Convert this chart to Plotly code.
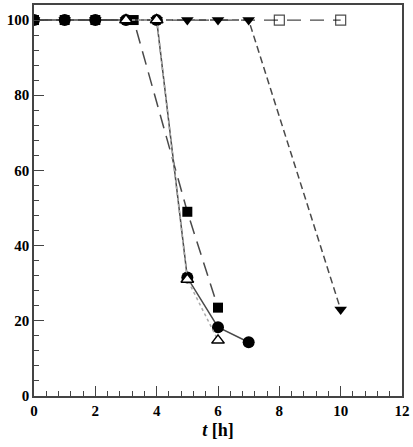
import plotly.graph_objects as go

# Data
t_circle = [0, 1, 2, 3, 4, 5, 6, 7]
y_circle = [100, 100, 100, 100, 100, 31.5, 18.3, 14.3]

t_square_f = [0, 1, 2, 3.25, 5, 6]
y_square_f = [100, 100, 100, 100, 49, 23.5]

t_tri_up = [3, 4, 5, 6]
y_tri_up = [100, 100, 31, 14.8]

t_tri_down = [0, 1, 2, 3, 4, 5, 6, 7, 10]
y_tri_down = [100, 100, 100, 100, 100, 100, 100, 100, 23]

t_square_o = [0, 1, 2, 3, 4, 5, 6, 7, 8, 10]
y_square_o = [100, 100, 100, 100, 100, 100, 100, 100, 100, 100]
show_square_o = [0, 0, 0, 0, 0, 0, 0, 0, 1, 1]

line_col = "#4a4a4a"

fig = go.Figure()

fig.add_trace(go.Scatter(
    x=t_square_o, y=y_square_o, mode="lines+markers",
    line=dict(color=line_col, width=1.3, dash="14px,9px"),
    marker=dict(symbol="square-open", size=[10 * s for s in show_square_o],
                color="black", line=dict(width=1.2, color="black")),
    showlegend=False))

fig.add_trace(go.Scatter(
    x=t_tri_down, y=y_tri_down, mode="lines+markers",
    line=dict(color=line_col, width=1.5, dash="7px,4px"),
    marker=dict(symbol="triangle-down", size=11, color="black"),
    showlegend=False))

fig.add_trace(go.Scatter(
    x=t_square_f, y=y_square_f, mode="lines+markers",
    line=dict(color=line_col, width=1.5, dash="14px,8px"),
    marker=dict(symbol="square", size=10, color="black"),
    showlegend=False))

fig.add_trace(go.Scatter(
    x=t_circle, y=y_circle, mode="lines+markers",
    line=dict(color=line_col, width=1.5),
    marker=dict(symbol="circle", size=12, color="black"),
    showlegend=False))

fig.add_trace(go.Scatter(
    x=t_tri_up, y=y_tri_up, mode="lines+markers",
    line=dict(color="#aaaaaa", width=1.5, dash="dot"),
    marker=dict(symbol="triangle-up", size=11, color="white",
                line=dict(width=1.5, color="black")),
    showlegend=False))

tickfont = dict(family="Liberation Serif", size=15, color="black", weight="bold")

fig.update_layout(
    width=413, height=447,
    margin=dict(l=34, r=8, t=3, b=51),
    paper_bgcolor="white", plot_bgcolor="white",
    xaxis=dict(
        range=[0, 12], tick0=0, dtick=2, tickmode="linear",
        ticks="inside", ticklen=10, tickwidth=1.3, tickcolor="#444",
        minor=dict(dtick=0.4, tick0=0, ticks="inside", ticklen=5, tickwidth=1, tickcolor="#444"),
        showline=True, linecolor="#444", linewidth=1.5, mirror=True,
        showgrid=False, zeroline=False, tickfont=tickfont,
        title=dict(text="<b><i>t</i> [h]</b>", font=dict(family="Liberation Serif", size=18, color="black"), standoff=6),
    ),
    yaxis=dict(
        range=[0, 104], tick0=0, dtick=20, tickmode="linear",
        ticks="inside", ticklen=10, tickwidth=1.3, tickcolor="#444",
        minor=dict(dtick=4, tick0=0, ticks="inside", ticklen=5, tickwidth=1, tickcolor="#444"),
        showline=True, linecolor="#444", linewidth=1.5, mirror=True,
        showgrid=False, zeroline=False, tickfont=tickfont,
    ),
)

fig.write_html("out.html")
